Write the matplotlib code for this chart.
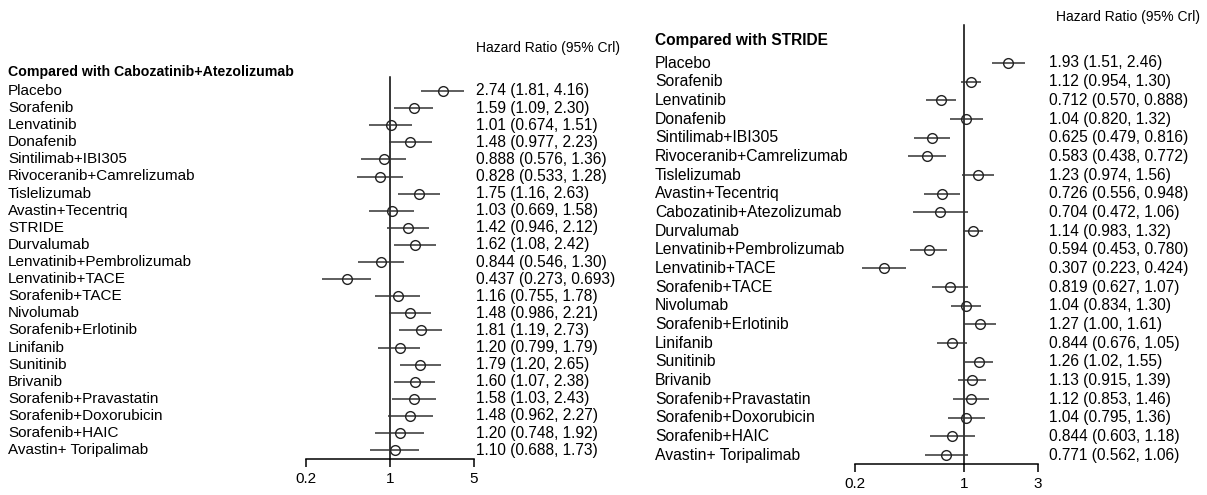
import matplotlib.pyplot as plt
import matplotlib.transforms as mtransforms

plt.rcParams['font.family'] = ['Liberation Sans', 'DejaVu Sans']

# data - left panel, compared with Cabozatinib+Atezolizumab
left_labels = ["Placebo", "Sorafenib", "Lenvatinib", "Donafenib", "Sintilimab+IBI305",
               "Rivoceranib+Camrelizumab", "Tislelizumab", "Avastin+Tecentriq", "STRIDE",
               "Durvalumab", "Lenvatinib+Pembrolizumab", "Lenvatinib+TACE", "Sorafenib+TACE",
               "Nivolumab", "Sorafenib+Erlotinib", "Linifanib", "Sunitinib", "Brivanib",
               "Sorafenib+Pravastatin", "Sorafenib+Doxorubicin", "Sorafenib+HAIC",
               "Avastin+ Toripalimab"]
left_hr = [2.74, 1.59, 1.01, 1.48, 0.888, 0.828, 1.75, 1.03, 1.42, 1.62, 0.844, 0.437,
           1.16, 1.48, 1.81, 1.20, 1.79, 1.60, 1.58, 1.48, 1.20, 1.10]
left_lo = [1.81, 1.09, 0.674, 0.977, 0.576, 0.533, 1.16, 0.669, 0.946, 1.08, 0.546, 0.273,
           0.755, 0.986, 1.19, 0.799, 1.20, 1.07, 1.03, 0.962, 0.748, 0.688]
left_hi = [4.16, 2.30, 1.51, 2.23, 1.36, 1.28, 2.63, 1.58, 2.12, 2.42, 1.30, 0.693,
           1.78, 2.21, 2.73, 1.79, 2.65, 2.38, 2.43, 2.27, 1.92, 1.73]
left_ticks = [0.2, 1, 5]
left_ticklabels = ["0.2", "1", "5"]

# data - right panel, compared with STRIDE
right_labels = ["Placebo", "Sorafenib", "Lenvatinib", "Donafenib", "Sintilimab+IBI305",
                "Rivoceranib+Camrelizumab", "Tislelizumab", "Avastin+Tecentriq",
                "Cabozatinib+Atezolizumab", "Durvalumab", "Lenvatinib+Pembrolizumab",
                "Lenvatinib+TACE", "Sorafenib+TACE", "Nivolumab", "Sorafenib+Erlotinib",
                "Linifanib", "Sunitinib", "Brivanib", "Sorafenib+Pravastatin",
                "Sorafenib+Doxorubicin", "Sorafenib+HAIC", "Avastin+ Toripalimab"]
right_hr = [1.93, 1.12, 0.712, 1.04, 0.625, 0.583, 1.23, 0.726, 0.704, 1.14, 0.594, 0.307,
            0.819, 1.04, 1.27, 0.844, 1.26, 1.13, 1.12, 1.04, 0.844, 0.771]
right_lo = [1.51, 0.954, 0.570, 0.820, 0.479, 0.438, 0.974, 0.556, 0.472, 0.983, 0.453,
            0.223, 0.627, 0.834, 1.00, 0.676, 1.02, 0.915, 0.853, 0.795, 0.603, 0.562]
right_hi = [2.46, 1.30, 0.888, 1.32, 0.816, 0.772, 1.56, 0.948, 1.06, 1.32, 0.780, 0.424,
            1.07, 1.30, 1.61, 1.05, 1.55, 1.39, 1.46, 1.36, 1.18, 1.06]
right_ticks = [0.2, 1, 3]
right_ticklabels = ["0.2", "1", "3"]

W, H = 1207, 495
fig = plt.figure(figsize=(W / 100, H / 100), dpi=100)


def fmt(v):
    return f"{v:.3f}" if v < 1 else f"{v:.2f}"


def forest(title, labels, hr, lo, hi, ticks, ticklabels,
           ax_x0, ax_x1, row0, step, axis_y, line_top,
           label_x, value_x, title_y, hr_x, hr_y, fs, title_fs):
    ax = fig.add_axes([ax_x0 / W, 0, (ax_x1 - ax_x0) / W, 1])
    ax.set_xscale('log')
    ax.set_xlim(ticks[0], ticks[-1])
    to_row = lambda py: (py - row0) / step
    ax.set_ylim(to_row(H), to_row(0))
    ax.patch.set_alpha(0)

    for s in ['top', 'right', 'left']:
        ax.spines[s].set_visible(False)
    ax.spines['bottom'].set_position(('data', to_row(axis_y)))
    ax.spines['bottom'].set_bounds(ticks[0], ticks[-1])
    ax.spines['bottom'].set_linewidth(1.1)
    ax.set_yticks([])
    ax.set_xticks(ticks)
    ax.set_xticklabels(ticklabels)
    ax.xaxis.set_minor_locator(plt.NullLocator())
    ax.tick_params(axis='x', direction='out', length=6, width=1.1, labelsize=11, pad=3)

    ax.plot([1, 1], [to_row(line_top), to_row(axis_y)], color='black', lw=1.1)

    rows = list(range(len(labels)))
    ax.hlines(rows, lo, hi, color='#333333', lw=1.1)
    ax.plot(hr, rows, 'o', ms=7, mfc='none', mec='#222222', mew=1.0)

    tr = mtransforms.blended_transform_factory(fig.transFigure, ax.transData)
    for i, lab in enumerate(labels):
        ax.text(label_x / W, i, lab, transform=tr, fontsize=fs, va='center', ha='left')
        ax.text(value_x / W, i, f"{fmt(hr[i])} ({fmt(lo[i])}, {fmt(hi[i])})",
                transform=tr, fontsize=11.2, va='center', ha='left')
    ax.text(label_x / W, to_row(title_y), title, transform=tr, fontsize=title_fs,
            fontweight='bold', va='center', ha='left')
    ax.text(hr_x / W, to_row(hr_y), "Hazard Ratio (95% Crl)", transform=tr,
            fontsize=10, va='center', ha='left')


forest("Compared with Cabozatinib+Atezolizumab", left_labels, left_hr, left_lo, left_hi,
       left_ticks, left_ticklabels, 306, 474, 91, 17.1, 459, 77, 8, 476, 72, 476, 48,
       11, 10.2)
forest("Compared with STRIDE", right_labels, right_hr, right_lo, right_hi,
       right_ticks, right_ticklabels, 855, 1038, 63, 18.67, 464, 25, 655, 1049, 41, 1056, 17,
       11.3, 11.2)

fig.savefig("out.png", dpi=100)
